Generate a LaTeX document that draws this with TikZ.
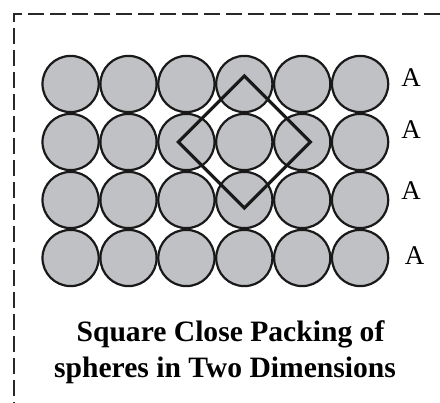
\documentclass[tikz,border=0pt]{standalone}
\usepackage{fontspec}
\setmainfont{Liberation Serif}
\usepackage{xcolor}
\usepackage{tikz}
\usetikzlibrary{positioning}

\definecolor{spheregray}{RGB}{192,193,196}
\definecolor{framegray}{RGB}{40,40,40}

\begin{document}
\begin{tikzpicture}[
    x=1pt, y=-1pt,
    sphere/.style={
        circle,
        draw=black!90,
        line width=2.2pt,
        fill=spheregray,
        minimum size=56.2pt,
        inner sep=0pt
    },
    layer/.style={
        font=\fontsize{27}{30}\selectfont,
        inner sep=0pt
    },
    caption/.style={
        font=\fontsize{29.6}{36}\selectfont\bfseries,
        inner sep=0pt,
        anchor=base
    },
    cell/.style={
        line width=3.2pt,
        line join=miter,
        draw=black!90
    }
]

\useasboundingbox (0,0) rectangle (440,403);

% dashed frame
\draw[framegray, line width=1.8pt, dash pattern=on 16pt off 6pt]
    (440,14) -- (14,14) -- (14,403);

% spheres
\foreach \row in {1,...,4} {
    \foreach \col in {1,...,6} {
        \node[sphere] (c-\col-\row) at ({70.6+57.9*(\col-1)}, {84+58*(\row-1)}) {};
    }
}

% layer labels
\node[layer] (a1) at (411,77.5) {A};
\node[layer] (a2) at (411,130) {A};
\node[layer] (a3) at (411,191) {A};
\node[layer] (a4) at (414.5,256) {A};

% unit cell
\coordinate (top) at ([yshift=66pt]c-4-2.center);
\coordinate (right) at ([xshift=66pt]c-4-2.center);
\coordinate (bottom) at ([yshift=-66pt]c-4-2.center);
\coordinate (left) at ([xshift=-66pt]c-4-2.center);
\draw[cell] (top) -- (right) -- (bottom) -- (left) -- cycle;

% caption
\node[caption] (title1) at (230.5,341.7) {Square Close Packing of};
\node[caption] (title2) at (225,378) {spheres in Two Dimensions};

\end{tikzpicture}
\end{document}
